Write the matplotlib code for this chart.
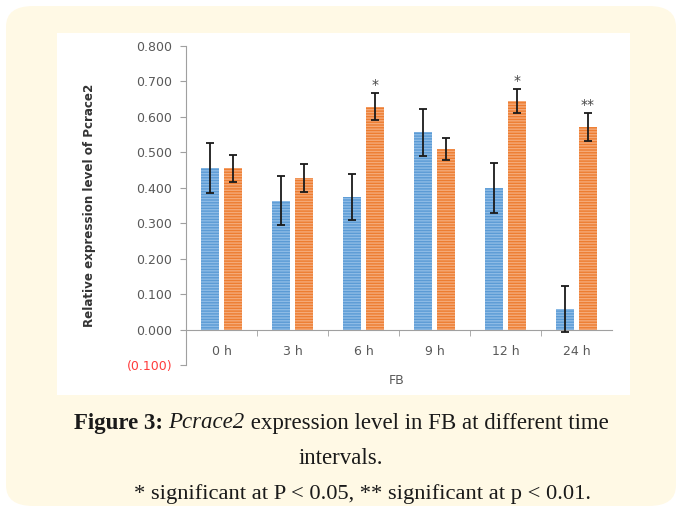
import matplotlib.pyplot as plt
import numpy as np
from matplotlib.patches import FancyBboxPatch, Rectangle

# data
times = ['0 h', '3 h', '6 h', '9 h', '12 h', '24 h']
blue_vals = [0.455, 0.363, 0.374, 0.557, 0.399, 0.059]
blue_err = [0.070, 0.069, 0.064, 0.066, 0.071, 0.065]
orange_vals = [0.455, 0.427, 0.629, 0.509, 0.644, 0.572]
orange_err = [0.038, 0.040, 0.037, 0.031, 0.034, 0.039]
stars = ['', '', '*', '', '*', '**']
yticks = [-0.1, 0.0, 0.1, 0.2, 0.3, 0.4, 0.5, 0.6, 0.7, 0.8]


def main():
    fig = plt.figure(figsize=(6.82, 5.12), dpi=100)
    fig.patch.set_facecolor('white')

    # cream rounded panel + white chart image
    panel = FancyBboxPatch((6 / 682, 6 / 512), 670 / 682, 500 / 512,
                           boxstyle='round,pad=0,rounding_size=0.04',
                           transform=fig.transFigure, facecolor='#FFF9E5',
                           edgecolor='none', zorder=0)
    fig.patches.append(panel)
    img = Rectangle((57 / 682, 1 - 395 / 512), 573 / 682, 362 / 512,
                    transform=fig.transFigure, facecolor='white',
                    edgecolor='none', zorder=1)
    fig.patches.append(img)

    ax = fig.add_axes([186 / 682, 1 - 365 / 512, 426 / 682, 319 / 512])
    ax.set_facecolor('none')
    ax.set_zorder(2)

    x = np.arange(len(times))
    w = 0.25
    off = 0.157
    ax.bar(x - off, blue_vals, w, color='#5B9BD5', edgecolor='#8DBBE6',
           linewidth=0, hatch='------', zorder=2)
    ax.bar(x + off, orange_vals, w, color='#ED7D31', edgecolor='#F5AA78',
           linewidth=0, hatch='------', zorder=2)
    ax.errorbar(x - off, blue_vals, yerr=blue_err, fmt='none', ecolor='#1a1a1a',
                elinewidth=1.3, capsize=3, capthick=1.3, zorder=3)
    ax.errorbar(x + off, orange_vals, yerr=orange_err, fmt='none', ecolor='#1a1a1a',
                elinewidth=1.3, capsize=3, capthick=1.3, zorder=3)
    for i, s in enumerate(stars):
        if s:
            ax.text(x[i] + off, orange_vals[i] + orange_err[i] + 0.004, s,
                    ha='center', va='bottom', fontsize=10, color='#444444')

    ax.set_xlim(-0.5, 5.5)
    ax.set_ylim(-0.1, 0.8)
    ax.spines['top'].set_visible(False)
    ax.spines['right'].set_visible(False)
    ax.spines['left'].set_color('#a0a0a0')
    ax.spines['bottom'].set_position(('data', 0))
    ax.spines['bottom'].set_color('#a0a0a0')

    ax.set_yticks(yticks)
    ylabels = ['(0.100)' if v < 0 else f'{v:.3f}' for v in yticks]
    ax.set_yticklabels(ylabels, fontsize=9, color='#595959')
    ax.get_yticklabels()[0].set_color('#FF3B3B')
    ax.tick_params(axis='y', length=4, color='#a0a0a0', pad=6)

    ax.set_xticks(x)
    ax.set_xticklabels(times, fontsize=9, color='#595959')
    ax.tick_params(axis='x', which='major', length=0, pad=11)
    ax.set_xticks(np.arange(0.5, 5.5, 1.0), minor=True)
    ax.tick_params(axis='x', which='minor', length=4, color='#a0a0a0', direction='out')

    ax.set_ylabel('Relative expression level of Pcrace2', fontsize=8.6,
                  fontweight='bold', color='#333333', labelpad=22)
    fig.text(397 / 682, 1 - 380 / 512, 'FB', ha='center', va='center',
             fontsize=9, color='#595959')

    # caption with mixed styles
    fig.canvas.draw()
    r = fig.canvas.get_renderer()
    serif = 'Liberation Serif'
    fs = 16.5
    parts = [('Figure 3: ', 'bold', 'normal'), ('Pcrace2', 'normal', 'italic'),
             (' expression level in FB at different time', 'normal', 'normal')]
    texts = []
    for s, wt, st in parts:
        t = fig.text(0, 0, s, fontsize=fs, family=serif, fontweight=wt,
                     fontstyle=st, color='#1a1a1a', va='center')
        texts.append(t)
    widths = [t.get_window_extent(r).width for t in texts]
    total = sum(widths)
    xpos = (682 - total) / 2
    for t, wd in zip(texts, widths):
        t.set_position((xpos / 682, 1 - 423 / 512))
        xpos += wd
    fig.text(0.5, 1 - 459 / 512, 'intervals.', fontsize=fs, family=serif,
             ha='center', va='center', color='#1a1a1a')
    fig.text(363 / 682, 1 - 494 / 512, '* significant at P < 0.05, ** significant at p < 0.01.',
             fontsize=16.2, family=serif, ha='center', va='center', color='#1a1a1a')

    fig.savefig('out.png', dpi=100)


if __name__ == '__main__':
    main()
